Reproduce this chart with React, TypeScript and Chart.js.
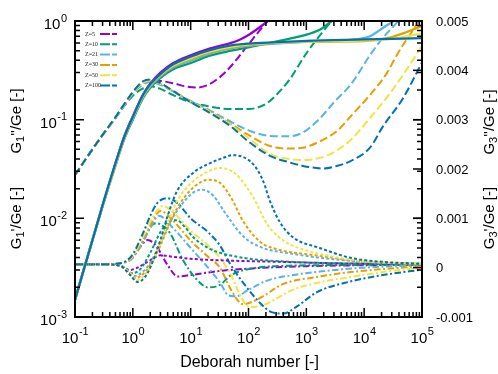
import React, { useEffect, useRef } from 'react';
import { Chart, registerables } from 'chart.js';

Chart.register(...registerables);

type P = [number, number][];

// ---- categories / styling keys ----
const Z_LABELS = ['Z=5', 'Z=10', 'Z=21', 'Z=30', 'Z=50', 'Z=100'];
const COLORS = ['#9400d3', '#009e73', '#56b4e9', '#e69f00', '#f0e442', '#0072b2'];

// ---- tick labels ----
const X_TICK_EXP = [-1, 0, 1, 2, 3, 4, 5];
const Y_TICK_EXP = [-3, -2, -1, 0];
const Y2_TICKS = [-0.001, 0, 0.001, 0.002, 0.003, 0.004, 0.005];
const Y2_LABELS = ['-0.001', '0', '0.001', '0.002', '0.003', '0.004', '0.005'];

// ---- G1'/Ge (solid, left log axis) ----
const G1P_Z5: P = [[0.1,0.0015],[0.2,0.006],[0.3,0.0135],[0.5,0.036],[0.7,0.066],[1,0.108],[1.5,0.18],[2,0.232],[3,0.3],[5,0.375],[10,0.45],[20,0.52],[50,0.6],[72,0.65],[100,0.72],[130,0.8],[215,1.0],[280,1.15]];
const G1P_Z10: P = [[0.1,0.0015],[0.2,0.006],[0.3,0.0133],[0.5,0.034],[0.7,0.062],[1,0.1],[1.5,0.165],[2,0.21],[3,0.265],[5,0.325],[10,0.375],[20,0.44],[50,0.5],[100,0.54],[235,0.6],[500,0.66],[870,0.71],[1740,0.82],[2750,1.0],[3500,1.12]];
const G1P_Z21: P = [[0.1,0.0015],[0.2,0.006],[0.3,0.0134],[0.5,0.035],[0.7,0.063],[1,0.103],[1.5,0.17],[2,0.218],[3,0.275],[5,0.34],[10,0.396],[20,0.46],[50,0.53],[100,0.56],[1000,0.615],[3000,0.63],[5800,0.645],[12600,0.7],[21000,0.85],[32000,1.0],[40000,1.12]];
const G1P_Z30: P = [[0.1,0.0015],[0.2,0.006],[0.3,0.0135],[0.5,0.035],[0.7,0.064],[1,0.105],[1.5,0.173],[2,0.222],[3,0.28],[5,0.35],[10,0.41],[20,0.475],[50,0.54],[100,0.57],[300,0.6],[1000,0.615],[10000,0.625],[25000,0.67],[47000,0.75],[100000,0.89]];
const G1P_Z50: P = [[0.1,0.0015],[0.2,0.006],[0.3,0.0135],[0.5,0.035],[0.7,0.064],[1,0.106],[1.5,0.175],[2,0.225],[3,0.285],[5,0.355],[10,0.42],[20,0.485],[50,0.55],[100,0.58],[300,0.605],[1000,0.62],[10000,0.635],[30000,0.66],[100000,0.75]];
const G1P_Z100: P = [[0.1,0.0015],[0.2,0.006],[0.3,0.0136],[0.5,0.036],[0.7,0.065],[1,0.107],[1.5,0.178],[2,0.228],[3,0.29],[5,0.365],[10,0.435],[20,0.5],[50,0.565],[100,0.59],[300,0.61],[1000,0.63],[10000,0.65],[100000,0.67]];

// ---- G1''/Ge (dashed, left log axis) ----
const G1PP_Z5: P = [[0.1,0.0275],[0.2,0.05],[0.3,0.07],[0.5,0.105],[0.7,0.14],[1,0.19],[1.5,0.24],[2,0.25],[3,0.247],[5,0.234],[8,0.218],[13,0.212],[20,0.225],[32,0.27],[48,0.34],[100,0.58],[150,0.78],[215,1.0],[280,1.2]];
const G1PP_Z10: P = [[0.1,0.0275],[0.2,0.05],[0.3,0.07],[0.5,0.103],[0.7,0.136],[1,0.175],[1.5,0.208],[2,0.218],[3,0.205],[5,0.177],[10,0.15],[20,0.137],[50,0.128],[100,0.128],[180,0.14],[235,0.155],[500,0.25],[1000,0.47],[2000,0.8],[2750,1.0],[3500,1.15]];
const G1PP_Z21: P = [[0.1,0.0275],[0.2,0.05],[0.3,0.07],[0.5,0.104],[0.7,0.138],[1,0.182],[1.5,0.228],[2,0.24],[3,0.225],[5,0.193],[10,0.155],[20,0.127],[50,0.095],[100,0.078],[235,0.0685],[500,0.068],[870,0.074],[1740,0.104],[3000,0.15],[5800,0.225],[12600,0.45],[20000,0.65],[36000,0.95],[50000,1.2]];
const G1PP_Z30: P = [[0.1,0.0275],[0.2,0.05],[0.3,0.07],[0.5,0.105],[0.7,0.14],[1,0.185],[1.5,0.235],[2,0.248],[3,0.23],[5,0.195],[10,0.153],[20,0.124],[50,0.09],[100,0.07],[235,0.054],[500,0.051],[870,0.052],[1500,0.058],[3400,0.077],[6000,0.11],[12600,0.178],[25000,0.3],[37000,0.456],[81000,0.92],[100000,1.1]];
const G1PP_Z50: P = [[0.1,0.0275],[0.2,0.05],[0.3,0.07],[0.5,0.105],[0.7,0.14],[1,0.187],[1.5,0.238],[2,0.25],[3,0.232],[5,0.195],[10,0.152],[20,0.122],[50,0.088],[100,0.065],[235,0.045],[500,0.04],[870,0.039],[2000,0.042],[3400,0.049],[5800,0.062],[12600,0.104],[25000,0.17],[47000,0.284],[100000,0.56]];
const G1PP_Z100: P = [[0.1,0.0275],[0.2,0.05],[0.3,0.07],[0.5,0.106],[0.7,0.142],[1,0.19],[1.5,0.245],[2,0.255],[3,0.235],[5,0.195],[10,0.15],[20,0.12],[50,0.085],[100,0.06],[235,0.043],[500,0.037],[870,0.034],[2000,0.032],[3400,0.034],[5800,0.038],[12600,0.052],[21000,0.085],[47000,0.165],[100000,0.38]];

// ---- G3''/Ge (dotted, right axis, in units of 1e-3) ----
const G3PP_Z5: P = [[0.1,0.07],[0.3,0.07],[0.6,0.04],[0.85,-0.05],[1.2,0.0],[2,0.15],[3,0.25],[5,0.22],[10,0.18],[30,0.15],[300,0.12],[3000,0.09],[100000,0.07]];
const G3PP_Z10: P = [[0.1,0.07],[0.3,0.07],[0.6,0.04],[0.8,-0.03],[0.95,-0.11],[1.3,-0.05],[2,0.3],[3,0.72],[4.5,0.95],[5.8,0.96],[8,0.82],[11,0.62],[20,0.4],[29,0.32],[80,0.2],[500,0.12],[10000,0.08],[100000,0.07]];
const G3PP_Z21: P = [[0.1,0.07],[0.3,0.07],[0.6,0.04],[0.85,-0.08],[1.05,-0.17],[1.5,-0.08],[2,0.1],[3,0.5],[4,0.83],[5.8,1.15],[11,1.52],[16,1.58],[25,1.45],[40,1.1],[80,0.64],[160,0.42],[580,0.28],[3000,0.17],[10000,0.12],[100000,0.07]];
const G3PP_Z30: P = [[0.1,0.07],[0.3,0.07],[0.6,0.04],[0.9,-0.1],[1.1,-0.21],[1.6,-0.1],[2,0.06],[3,0.45],[4,0.8],[5.8,1.2],[11,1.62],[20,1.78],[32,1.72],[50,1.42],[80,0.95],[160,0.52],[300,0.38],[1700,0.24],[10000,0.12],[100000,0.08]];
const G3PP_Z50: P = [[0.1,0.07],[0.3,0.07],[0.6,0.04],[0.9,-0.12],[1.15,-0.25],[1.6,-0.15],[2,0.02],[3,0.5],[4,0.9],[5.8,1.35],[11,1.75],[20,1.95],[32,2.02],[60,1.9],[120,1.43],[210,0.88],[400,0.55],[1000,0.35],[3000,0.22],[10000,0.13],[100000,0.08]];
const G3PP_Z100: P = [[0.1,0.07],[0.3,0.07],[0.6,0.04],[0.9,-0.15],[1.2,-0.29],[1.6,-0.2],[2,0.0],[3,0.56],[4,1.05],[5.8,1.55],[11,1.92],[20,2.1],[32,2.2],[54,2.28],[120,2.1],[180,1.75],[235,1.35],[350,0.92],[580,0.62],[1700,0.4],[5800,0.2],[20000,0.12],[100000,0.08]];

// ---- G3'/Ge (dash-dot, right axis, in units of 1e-3) ----
const G3P_Z5: P = [[0.1,0.07],[0.4,0.07],[0.6,0.09],[0.8,0.13],[1,0.22],[1.4,0.45],[1.8,0.56],[2.5,0.45],[4,0.05],[6,-0.18],[10,-0.15],[30,-0.07],[100,-0.02],[1000,0.03],[100000,0.06]];
const G3P_Z10: P = [[0.1,0.07],[0.4,0.07],[0.6,0.09],[0.8,0.13],[1,0.22],[1.5,0.55],[2,0.82],[2.5,0.9],[3,0.88],[4.4,0.7],[7.4,0.15],[13,-0.25],[20,-0.4],[32,-0.35],[50,-0.15],[100,-0.03],[500,0.04],[100000,0.06]];
const G3P_Z21: P = [[0.1,0.07],[0.4,0.07],[0.6,0.09],[0.8,0.12],[1,0.2],[1.5,0.52],[2,0.8],[2.8,1.05],[5,0.8],[10,0.4],[20,0.0],[32,-0.3],[45,-0.56],[60,-0.58],[100,-0.45],[200,-0.27],[580,-0.15],[2000,-0.07],[10000,0.0],[100000,0.05]];
const G3P_Z30: P = [[0.1,0.07],[0.4,0.07],[0.6,0.09],[0.8,0.13],[1,0.22],[1.5,0.57],[2,0.86],[3,1.15],[5,0.95],[10,0.55],[20,0.22],[32,0.0],[50,-0.45],[80,-0.74],[150,-0.63],[400,-0.33],[1500,-0.19],[5800,-0.09],[100000,0.03]];
const G3P_Z50: P = [[0.1,0.07],[0.4,0.07],[0.6,0.09],[0.8,0.14],[1,0.24],[1.5,0.62],[2,0.93],[2.6,1.15],[3.3,1.25],[5,1.12],[10,0.75],[20,0.45],[32,0.2],[50,-0.15],[75,-0.6],[105,-0.8],[180,-0.76],[580,-0.45],[1500,-0.31],[5800,-0.19],[21000,-0.09],[100000,0.0]];
const G3P_Z100: P = [[0.1,0.07],[0.4,0.07],[0.6,0.09],[0.8,0.15],[1,0.27],[1.5,0.7],[2,1.05],[2.6,1.3],[3.9,1.41],[6,1.3],[10,1.0],[20,0.72],[32,0.45],[48,0.08],[80,-0.3],[160,-0.72],[250,-0.9],[400,-0.93],[700,-0.78],[1500,-0.5],[5800,-0.28],[21000,-0.15],[100000,-0.04]];

const G1P = [G1P_Z5, G1P_Z10, G1P_Z21, G1P_Z30, G1P_Z50, G1P_Z100];
const G1PP = [G1PP_Z5, G1PP_Z10, G1PP_Z21, G1PP_Z30, G1PP_Z50, G1PP_Z100];
const G3PP = [G3PP_Z5, G3PP_Z10, G3PP_Z21, G3PP_Z30, G3PP_Z50, G3PP_Z100];
const G3P = [G3P_Z5, G3P_Z10, G3P_Z21, G3P_Z30, G3P_Z50, G3P_Z100];

const FAMILIES = [
  { name: "G1'", sets: G1P, axis: 'y', scale: 1, dash: [] as number[], width: 2.3 },
  { name: "G1''", sets: G1PP, axis: 'y', scale: 1, dash: [8, 3.5], width: 2 },
  { name: "G3''", sets: G3PP, axis: 'y2', scale: 1e-3, dash: [3, 2.2], width: 2 },
  { name: "G3'", sets: G3P, axis: 'y2', scale: 1e-3, dash: [6.5, 2.5, 2, 2.5], width: 2 },
];

const FONT = '"Liberation Sans", Arial, sans-serif';

function drawRotTitle(ctx: CanvasRenderingContext2D, cx: number, cy: number, sub: string, primes: string) {
  const main = `15px ${FONT}`;
  const small = `11px ${FONT}`;
  const parts = [
    { t: 'G', f: main, dy: 0 },
    { t: sub, f: small, dy: 4 },
    { t: primes + '/Ge [-]', f: main, dy: 0 },
  ];
  ctx.save();
  ctx.translate(cx, cy);
  ctx.rotate(-Math.PI / 2);
  ctx.textBaseline = 'middle';
  ctx.textAlign = 'left';
  let total = 0;
  for (const p of parts) { ctx.font = p.f; total += ctx.measureText(p.t).width; }
  let x = -total / 2;
  for (const p of parts) {
    ctx.font = p.f;
    ctx.fillText(p.t, x, p.dy);
    x += ctx.measureText(p.t).width;
  }
  ctx.restore();
}

const framePlugin = {
  id: 'gnuframe',
  afterDraw(chart: any) {
    const ctx: CanvasRenderingContext2D = chart.ctx;
    const a = chart.chartArea;
    const xs = chart.scales.x;
    const ys = chart.scales.y;
    const y2 = chart.scales.y2;
    ctx.save();
    ctx.strokeStyle = '#000';
    ctx.fillStyle = '#000';
    ctx.lineWidth = 1.5;
    ctx.setLineDash([]);
    // x ticks (bottom + top mirror)
    for (let d = -1; d <= 5; d++) {
      for (let k = 1; k <= 9; k++) {
        const v = k * Math.pow(10, d);
        if (v > 1e5 * 1.0001) break;
        const px = xs.getPixelForValue(v);
        const len = k === 1 ? 9 : 5;
        ctx.beginPath();
        ctx.moveTo(px, a.bottom); ctx.lineTo(px, a.bottom - len);
        ctx.moveTo(px, a.top); ctx.lineTo(px, a.top + len);
        ctx.stroke();
      }
    }
    // left log ticks + right mirror
    for (let d = -3; d <= 0; d++) {
      for (let k = 1; k <= 9; k++) {
        const v = k * Math.pow(10, d);
        if (v > 1.0001) break;
        const py = ys.getPixelForValue(v);
        const len = k === 1 ? 9 : 5;
        ctx.beginPath();
        ctx.moveTo(a.left, py); ctx.lineTo(a.left + len, py);
        ctx.moveTo(a.right, py); ctx.lineTo(a.right - len, py);
        ctx.stroke();
      }
    }
    // right linear ticks
    for (const v of Y2_TICKS) {
      const py = y2.getPixelForValue(v);
      ctx.beginPath();
      ctx.moveTo(a.right, py); ctx.lineTo(a.right - 9, py);
      ctx.stroke();
    }
    // frame
    ctx.lineWidth = 2;
    ctx.strokeRect(a.left, a.top, a.right - a.left, a.bottom - a.top);

    // x tick labels
    ctx.textBaseline = 'alphabetic';
    ctx.textAlign = 'left';
    const main = `15px ${FONT}`;
    const sup = `11px ${FONT}`;
    for (const e of X_TICK_EXP) {
      const px = xs.getPixelForValue(Math.pow(10, e));
      const s = String(e);
      ctx.font = main; const w1 = ctx.measureText('10').width;
      ctx.font = sup; const w2 = ctx.measureText(s).width;
      const x0 = px - (w1 + w2) / 2;
      ctx.font = main; ctx.fillText('10', x0, a.bottom + 26);
      ctx.font = sup; ctx.fillText(s, x0 + w1 + 0.5, a.bottom + 18);
    }
    // left tick labels
    for (const e of Y_TICK_EXP) {
      const py = ys.getPixelForValue(Math.pow(10, e));
      const s = String(e);
      ctx.font = sup; const w2 = ctx.measureText(s).width;
      ctx.font = main; const w1 = ctx.measureText('10').width;
      const xr = a.left - 8;
      ctx.font = main; ctx.fillText('10', xr - w2 - w1 - 0.5, py + 8);
      ctx.font = sup; ctx.fillText(s, xr - w2, py + 0.5);
    }
    // right tick labels
    ctx.font = `13px ${FONT}`;
    ctx.textBaseline = 'middle';
    Y2_TICKS.forEach((v, i) => {
      const py = y2.getPixelForValue(v);
      ctx.fillText(Y2_LABELS[i], a.right + 14, py + 1);
    });
    // x title
    ctx.textAlign = 'center';
    ctx.textBaseline = 'alphabetic';
    ctx.font = `16px ${FONT}`;
    ctx.fillText('Deborah number [-]', (a.left + a.right) / 2 + 1, a.bottom + 50);

    // y titles
    drawRotTitle(ctx, 17, 121, '1', "''");
    drawRotTitle(ctx, 17, 218, '1', "'");
    drawRotTitle(ctx, 490, 122, '3', "''");
    drawRotTitle(ctx, 490, 218, '3', "'");

    // legend
    ctx.textAlign = 'left';
    ctx.textBaseline = 'middle';
    ctx.font = `6px "Liberation Serif", serif`;
    Z_LABELS.forEach((lab, i) => {
      const y = a.top + 13 + i * 10.3;
      ctx.fillStyle = '#222';
      ctx.fillText(lab, a.left + 10, y);
      ctx.strokeStyle = COLORS[i];
      ctx.lineWidth = 2;
      ctx.setLineDash([10, 2]);
      ctx.beginPath();
      ctx.moveTo(a.left + 25, y);
      ctx.lineTo(a.left + 42, y);
      ctx.stroke();
    });
    ctx.setLineDash([]);
    ctx.restore();
  },
};

export default function App() {
  const ref = useRef<HTMLCanvasElement | null>(null);
  useEffect(() => {
    if (!ref.current) return;
    const datasets: any[] = [];
    for (const fam of FAMILIES) {
      for (let i = fam.sets.length - 1; i >= 0; i--) {
        datasets.push({
          label: `${fam.name} ${Z_LABELS[i]}`,
          data: fam.sets[i].map(([x, y]) => ({ x, y: y * fam.scale })),
          yAxisID: fam.axis,
          borderColor: COLORS[i],
          backgroundColor: COLORS[i],
          borderWidth: fam.width,
          borderDash: fam.dash,
          pointRadius: 0,
          fill: false,
          cubicInterpolationMode: 'monotone',
          clip: 0,
        });
      }
    }
    const chart = new Chart(ref.current, {
      type: 'line',
      data: { datasets },
      options: {
        animation: false,
        responsive: false,
        maintainAspectRatio: false,
        layout: { padding: { left: 75, right: 76, top: 21, bottom: 57 } },
        plugins: { legend: { display: false }, tooltip: { enabled: false } },
        scales: {
          x: { type: 'logarithmic', min: 0.1, max: 1e5, display: false },
          y: { type: 'logarithmic', min: 1e-3, max: 1, display: false },
          y2: { type: 'linear', min: -0.001, max: 0.005, display: false, position: 'right' },
        },
      } as any,
      plugins: [framePlugin],
    });
    return () => chart.destroy();
  }, []);
  return (
    <div style={{ position: 'fixed', left: 0, top: 0, width: 498, height: 374, background: '#fff' }}>
      <canvas ref={ref} width={498} height={374} style={{ display: 'block', width: 498, height: 374 }} />
    </div>
  );
}
